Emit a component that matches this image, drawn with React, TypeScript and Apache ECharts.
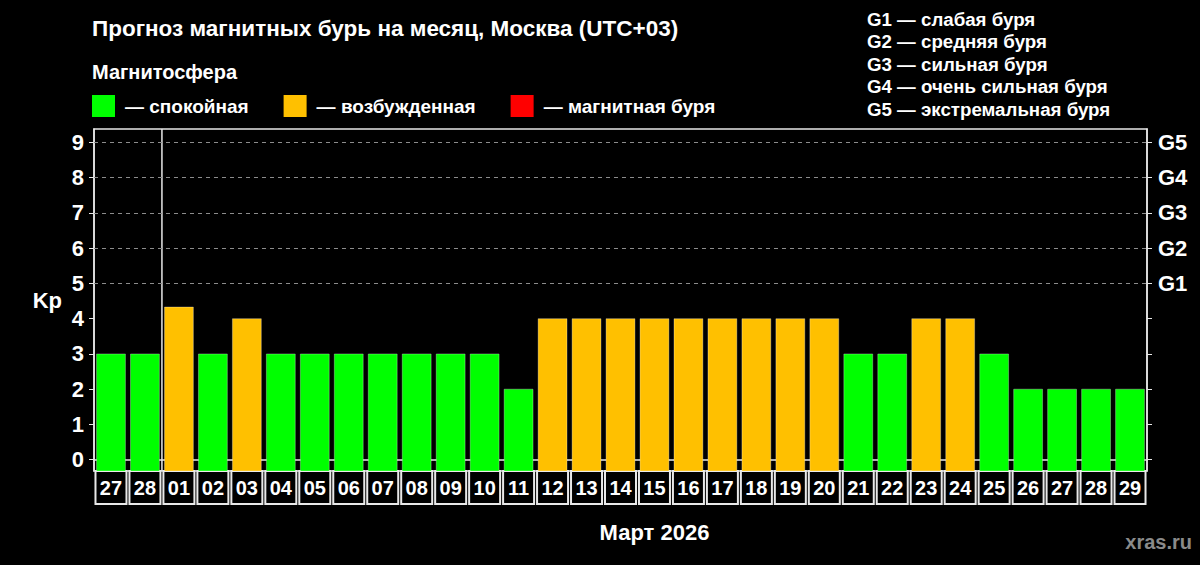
import React, { useEffect, useRef } from 'react';
import * as echarts from 'echarts';

// data
const days = ['27', '28', '01', '02', '03', '04', '05', '06', '07', '08', '09', '10', '11', '12', '13', '14', '15', '16', '17', '18', '19', '20', '21', '22', '23', '24', '25', '26', '27', '28', '29'];
const kpValues = [3, 3, 4.33, 3, 4, 3, 3, 3, 3, 3, 3, 3, 2, 4, 4, 4, 4, 4, 4, 4, 4, 4, 3, 3, 4, 4, 3, 2, 2, 2, 2];
const monthStartIndex = 2;
const monthLabel = 'Март 2026';
const kpTicks = [0, 1, 2, 3, 4, 5, 6, 7, 8, 9];
const stormKp = [5, 6, 7, 8, 9];
const stormNames = ['G1', 'G2', 'G3', 'G4', 'G5'];
const stormDescriptions = ['слабая буря', 'средняя буря', 'сильная буря', 'очень сильная буря', 'экстремальная буря'];
const stateNames = ['— спокойная', '— возбужденная', '— магнитная буря'];
const stateColors = ['#00ff00', '#ffc000', '#ff0000'];

const Y_MIN = -0.32;
const Y_MAX = 9.38;
const FONT = '"Liberation Sans", Arial, sans-serif';

const colorFor = (kp: number) => (kp >= 5 ? stateColors[2] : kp >= 4 ? stateColors[1] : stateColors[0]);

const App: React.FC = () => {
  const chartRef = useRef<HTMLDivElement>(null);

  useEffect(() => {
    document.body.style.margin = '0';
    document.body.style.background = '#000';
    const chart = echarts.init(chartRef.current!, undefined, { renderer: 'svg' });

    const options: any = {
      animation: false,
      backgroundColor: '#000',
      textStyle: { fontFamily: FONT },
      title: {
        text: 'Прогноз магнитных бурь на месяц, Москва (UTC+03)',
        subtext: 'Магнитосфера',
        left: 92,
        top: 17,
        padding: 0,
        itemGap: 22,
        textStyle: { color: '#fff', fontSize: 22.5, fontWeight: 'bold', fontFamily: FONT },
        subtextStyle: { color: '#fff', fontSize: 20, fontWeight: 'bold', fontFamily: FONT },
      },
      legend: {
        left: 92,
        top: 95,
        padding: 0,
        icon: 'rect',
        itemWidth: 23,
        itemHeight: 22,
        itemGap: 35,
        data: stateNames,
        selectedMode: false,
        textStyle: { color: '#fff', fontSize: 19, fontWeight: 'bold', fontFamily: FONT, padding: [0, 0, 0, 5] },
      },
      grid: {
        left: 94,
        right: 53,
        top: 129,
        bottom: 94,
        show: true,
        borderColor: '#e8e8e8',
        borderWidth: 1.5,
      },
      xAxis: {
        type: 'category',
        data: days,
        axisLine: { lineStyle: { color: '#e8e8e8', width: 1.5 } },
        axisTick: { show: false },
        axisLabel: {
          interval: 0,
          margin: 0,
          color: '#fff',
          fontSize: 20,
          fontWeight: 'bold',
          fontFamily: FONT,
          width: 31,
          height: 33,
          lineHeight: 33,
          align: 'center',
          borderColor: '#e8e8e8',
          borderWidth: 2,
        },
      },
      yAxis: [
        {
          type: 'value',
          min: Y_MIN,
          max: Y_MAX,
          name: 'Kp',
          nameLocation: 'middle',
          nameRotate: 0,
          nameGap: 32,
          nameTextStyle: { color: '#fff', fontSize: 22, fontWeight: 'bold', fontFamily: FONT },
          axisLine: { show: true, lineStyle: { color: '#e8e8e8', width: 1.5 } },
          axisTick: { show: true, length: 5, customValues: kpTicks, lineStyle: { color: '#e8e8e8' } },
          axisLabel: { customValues: kpTicks, margin: 10, color: '#fff', fontSize: 22, fontWeight: 'bold', fontFamily: FONT },
          splitLine: { show: false },
        },
        {
          type: 'value',
          position: 'right',
          min: Y_MIN,
          max: Y_MAX,
          axisLine: { show: true, lineStyle: { color: '#e8e8e8', width: 1.5 } },
          axisTick: { show: true, length: 5, customValues: kpTicks, lineStyle: { color: '#e8e8e8' } },
          axisLabel: {
            customValues: stormKp,
            margin: 11,
            color: '#fff',
            fontSize: 22,
            fontWeight: 'bold',
            fontFamily: FONT,
            formatter: (v: number) => stormNames[stormKp.indexOf(v)] || '',
          },
          splitLine: { show: false },
        },
      ],
      graphic: [
        {
          type: 'text',
          left: 867,
          top: 8,
          style: {
            text: stormNames.map((g, i) => `${g} — ${stormDescriptions[i]}`).join('\n'),
            fill: '#fff',
            font: `bold 18.7px ${FONT}`,
            lineHeight: 22.5,
          },
        },
        {
          type: 'text',
          right: 8,
          top: 532,
          style: { text: 'xras.ru', fill: '#8a8a8a', font: `bold 20px ${FONT}` },
        },
      ],
      series: [
        {
          type: 'custom',
          silent: true,
          clip: false,
          renderItem: (params: any, api: any) => {
            const idx = api.value(0);
            const kp = api.value(1);
            const top = api.coord([idx, kp]);
            const base = api.coord([idx, Y_MIN]);
            const band = api.size([1, 0])[0];
            const w = band * 0.85;
            const children: any[] = [
              {
                type: 'rect',
                shape: { x: top[0] - w / 2, y: top[1], width: w, height: base[1] - top[1] },
                style: { fill: colorFor(kp), stroke: 'rgba(255,255,255,0.3)', lineWidth: 1 },
              },
            ];
            if (idx === monthStartIndex) {
              const yTop = api.coord([idx, Y_MAX])[1];
              children.push({
                type: 'line',
                shape: { x1: top[0] - band / 2, y1: yTop, x2: top[0] - band / 2, y2: base[1] },
                style: { stroke: '#e8e8e8', lineWidth: 1.5 },
              });
            }
            return { type: 'group', children };
          },
          encode: { x: 0, y: 1 },
          data: kpValues.map((v, i) => [i, v]),
          markLine: {
            silent: true,
            symbol: 'none',
            label: { show: false },
            lineStyle: { color: '#8c8c8c', type: [4, 4], width: 1 },
            data: stormKp.map((v) => ({ yAxis: v })),
          },
        },
        // legend-only series, one per magnetosphere state
        ...stateNames.map((name, i) => ({
          type: 'custom',
          name,
          itemStyle: { color: stateColors[i] },
          renderItem: () => ({ type: 'group', children: [] }),
          data: [],
        })),
      ],
    };

    chart.setOption(options);

    // month caption centred under the days of the month
    const x1 = chart.convertToPixel({ xAxisIndex: 0 }, monthStartIndex) as number;
    const x2 = chart.convertToPixel({ xAxisIndex: 0 }, days.length - 1) as number;
    chart.setOption({
      graphic: [
        options.graphic[0],
        options.graphic[1],
        {
          type: 'text',
          x: (x1 + x2) / 2,
          y: 532,
          style: { text: monthLabel, fill: '#fff', font: `bold 22px ${FONT}`, textAlign: 'center', textVerticalAlign: 'middle' },
        },
      ],
    });

    return () => {
      chart.dispose();
    };
  }, []);

  return (
    <div
      ref={chartRef}
      style={{ position: 'fixed', left: 0, top: 0, width: '1200px', height: '565px', background: '#000' }}
    />
  );
};

export default App;
